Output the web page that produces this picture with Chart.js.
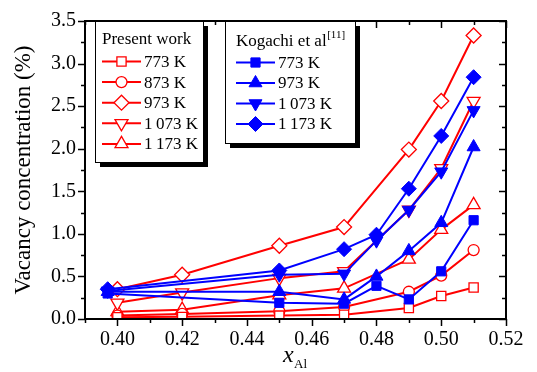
<!DOCTYPE html>
<html>
<head>
<meta charset="utf-8">
<script src="https://cdn.jsdelivr.net/npm/chart.js@4.4.0/dist/chart.umd.min.js"></script>
<style>
  html, body { margin: 0; padding: 0; background: #fff; }
</style>
</head>
<body>
<canvas id="chart" width="537" height="372"></canvas>
<script>
// --- data ---
const xPresent = [0.40, 0.42, 0.45, 0.47, 0.49, 0.50, 0.51];
const present773 = [0.02, 0.025, 0.04, 0.05, 0.13, 0.27, 0.37];
const present873 = [0.04, 0.06, 0.09, 0.14, 0.32, 0.51, 0.81];
const present973 = [0.35, 0.52, 0.86, 1.08, 1.99, 2.56, 3.33];
const present1073 = [0.19, 0.31, 0.48, 0.56, 1.28, 1.77, 2.56];
const present1173 = [0.085, 0.11, 0.28, 0.36, 0.70, 1.05, 1.34];

const xKogachi = [0.397, 0.45, 0.47, 0.48, 0.49, 0.50, 0.51];
const kogachi773 = [0.30, 0.19, 0.18, 0.39, 0.23, 0.56, 1.16];
const kogachi973 = [0.32, 0.32, 0.23, 0.50, 0.80, 1.13, 2.02];
const kogachi1073 = [0.33, 0.52, 0.53, 0.92, 1.28, 1.73, 2.45];
const kogachi1173 = [0.35, 0.57, 0.82, 0.99, 1.53, 2.15, 2.84];

const presentLabels = ['773 K', '873 K', '973 K', '1\u2009073 K', '1\u2009173 K'];
const kogachiLabels = ['773 K', '973 K', '1\u2009073 K', '1\u2009173 K'];

const RED = '#ff0000';
const BLUE = '#0000ff';
const SERIF = '"Liberation Serif", "Times New Roman", serif';

const markers = {
    square:  { pointStyle: 'rect', rotation: 0, radius: 6.5 },
    circle:  { pointStyle: 'circle', rotation: 0, radius: 5.5 },
    diamond: { pointStyle: 'rectRot', rotation: 0, radius: 7.5 },
    down:    { pointStyle: 'triangle', rotation: 180, radius: 7.5 },
    up:      { pointStyle: 'triangle', rotation: 0, radius: 7.5 }
};

function toPoints(xs, ys) {
    return xs.map((x, i) => ({ x: x, y: ys[i] }));
}

function makeSet(label, xs, ys, marker, filled, color, order) {
    const m = markers[marker];
    return {
        label: label,
        data: toPoints(xs, ys),
        borderColor: color,
        borderWidth: 2,
        pointStyle: m.pointStyle,
        pointRotation: m.rotation,
        pointRadius: m.radius,
        pointBorderWidth: filled ? 1 : 1.3,
        pointBorderColor: color,
        pointBackgroundColor: filled ? color : '#ffffff',
        fill: false,
        tension: 0,
        order: order
    };
}

const presentSets = [
    makeSet('773 K', xPresent, present773, 'square', false, RED, 2),
    makeSet('873 K', xPresent, present873, 'circle', false, RED, 2),
    makeSet('973 K', xPresent, present973, 'diamond', false, RED, 2),
    makeSet('1073 K', xPresent, present1073, 'down', false, RED, 2),
    makeSet('1173 K', xPresent, present1173, 'up', false, RED, 2)
];
const kogachiSets = [
    makeSet('773 K', xKogachi, kogachi773, 'square', true, BLUE, 1),
    makeSet('973 K', xKogachi, kogachi973, 'up', true, BLUE, 1),
    makeSet('1073 K', xKogachi, kogachi1073, 'down', true, BLUE, 1),
    makeSet('1173 K', xKogachi, kogachi1173, 'diamond', true, BLUE, 1)
];

function drawMarker(ctx, ds, x, y) {
    ctx.save();
    ctx.fillStyle = ds.pointBackgroundColor;
    ctx.strokeStyle = ds.pointBorderColor;
    ctx.lineWidth = ds.pointBorderWidth;
    Chart.helpers.drawPoint(ctx, {
        pointStyle: ds.pointStyle,
        rotation: ds.pointRotation,
        radius: ds.pointRadius,
        borderWidth: ds.pointBorderWidth
    }, x, y);
    ctx.restore();
}

function drawLegend(ctx, box, title, sup, sets, labels, layout) {
    ctx.save();
    ctx.fillStyle = '#000';
    ctx.fillRect(box.x + 5, box.y + 5, box.w, box.h);
    ctx.fillStyle = '#fff';
    ctx.fillRect(box.x, box.y, box.w, box.h);
    ctx.strokeStyle = '#000';
    ctx.lineWidth = 1;
    ctx.strokeRect(box.x + 0.5, box.y + 0.5, box.w, box.h);

    ctx.fillStyle = '#000';
    ctx.textBaseline = 'middle';
    ctx.textAlign = 'left';
    ctx.font = '17px ' + SERIF;
    ctx.fillText(title, layout.titleX, layout.titleY);
    if (sup) {
        const w = ctx.measureText(title).width;
        ctx.font = '11px ' + SERIF;
        ctx.fillText(sup, layout.titleX + w + 0.5, layout.titleY - 6);
    }
    ctx.font = '17px ' + SERIF;
    sets.forEach((ds, i) => {
        const y = layout.firstY + i * layout.stepY;
        ctx.strokeStyle = ds.borderColor;
        ctx.lineWidth = 2;
        ctx.beginPath();
        ctx.moveTo(layout.lineX1, y);
        ctx.lineTo(layout.lineX2, y);
        ctx.stroke();
        drawMarker(ctx, ds, (layout.lineX1 + layout.lineX2) / 2, y);
        ctx.fillStyle = '#000';
        ctx.fillText(labels[i], layout.textX, y + 1);
    });
    ctx.restore();
}

// frame, tick marks, axis titles and the two legend boxes
const decorations = {
    id: 'decorations',
    afterDatasetsDraw(chart) {
        const ctx = chart.ctx;
        const a = chart.chartArea;
        const xs = chart.scales.x;
        const ys = chart.scales.y;
        ctx.save();
        ctx.strokeStyle = '#000';
        ctx.lineWidth = 1.5;
        // x ticks: outward at bottom, inward at top
        for (let k = 39; k <= 52; k++) {
            const px = Math.round(xs.getPixelForValue(k / 100)) + 0.5;
            const len = k % 2 === 0 ? 7 : 4;
            ctx.beginPath();
            ctx.moveTo(px, a.bottom); ctx.lineTo(px, a.bottom + len);
            ctx.moveTo(px, a.top); ctx.lineTo(px, a.top + len);
            ctx.stroke();
        }
        // y ticks: outward on the left, inward on the right
        for (let k = 0; k <= 14; k++) {
            const py = Math.round(ys.getPixelForValue(k * 0.25)) + 0.5;
            const len = k % 2 === 0 ? 7 : 4;
            ctx.beginPath();
            ctx.moveTo(a.left, py); ctx.lineTo(a.left - len, py);
            ctx.moveTo(a.right, py); ctx.lineTo(a.right - len, py);
            ctx.stroke();
        }
        ctx.lineWidth = 2;
        ctx.strokeRect(a.left, a.top, a.right - a.left, a.bottom - a.top);

        // y title
        ctx.fillStyle = '#000';
        ctx.font = '23px ' + SERIF;
        ctx.textAlign = 'center';
        ctx.textBaseline = 'middle';
        ctx.save();
        ctx.translate(24, (a.top + a.bottom) / 2);
        ctx.rotate(-Math.PI / 2);
        ctx.fillText('Vacancy concentration (%)', 0, 0);
        ctx.restore();

        // x title: italic x with subscript Al
        ctx.textAlign = 'left';
        ctx.font = 'italic 24px ' + SERIF;
        ctx.fillText('x', 283, 356);
        ctx.font = '13px ' + SERIF;
        ctx.fillText('Al', 294, 365);
        ctx.restore();

        drawLegend(ctx, { x: 95, y: 21, w: 108, h: 141 }, 'Present work', null,
            presentSets, presentLabels,
            { titleX: 102, titleY: 40, firstY: 61.5, stepY: 20.6, lineX1: 102, lineX2: 141, textX: 144 });
        drawLegend(ctx, { x: 225, y: 21, w: 130, h: 122 }, 'Kogachi et al', '[11]',
            kogachiSets, kogachiLabels,
            { titleX: 236, titleY: 41.5, firstY: 62.5, stepY: 20.5, lineX1: 236, lineX2: 275, textX: 278 });
    }
};

new Chart(document.getElementById('chart'), {
    type: 'line',
    data: { datasets: presentSets.concat(kogachiSets) },
    options: {
        responsive: false,
        animation: false,
        layout: { padding: { top: 17, right: 31, left: 0, bottom: 0 } },
        plugins: { legend: { display: false }, tooltip: { enabled: false } },
        scales: {
            x: {
                type: 'linear',
                min: 0.39,
                max: 0.52,
                grid: { display: false, drawTicks: false },
                border: { display: false },
                ticks: {
                    stepSize: 0.01,
                    autoSkip: false,
                    maxRotation: 0,
                    padding: 9,
                    color: '#000',
                    font: { family: SERIF, size: 20 },
                    callback: function (value) {
                        const v = Math.round(value * 100);
                        return v % 2 === 0 ? (v / 100).toFixed(2) : '';
                    }
                },
                afterFit: function (scale) { scale.height = 53; }
            },
            y: {
                min: 0,
                max: 3.5,
                grid: { display: false, drawTicks: false },
                border: { display: false },
                ticks: {
                    stepSize: 0.25,
                    autoSkip: false,
                    padding: 9,
                    color: '#000',
                    font: { family: SERIF, size: 20 },
                    callback: function (value) {
                        const v = Math.round(value * 4);
                        return v % 2 === 0 ? (v / 4).toFixed(1) : '';
                    }
                },
                afterFit: function (scale) { scale.width = 85; }
            }
        }
    },
    plugins: [decorations]
});
</script>
</body>
</html>
